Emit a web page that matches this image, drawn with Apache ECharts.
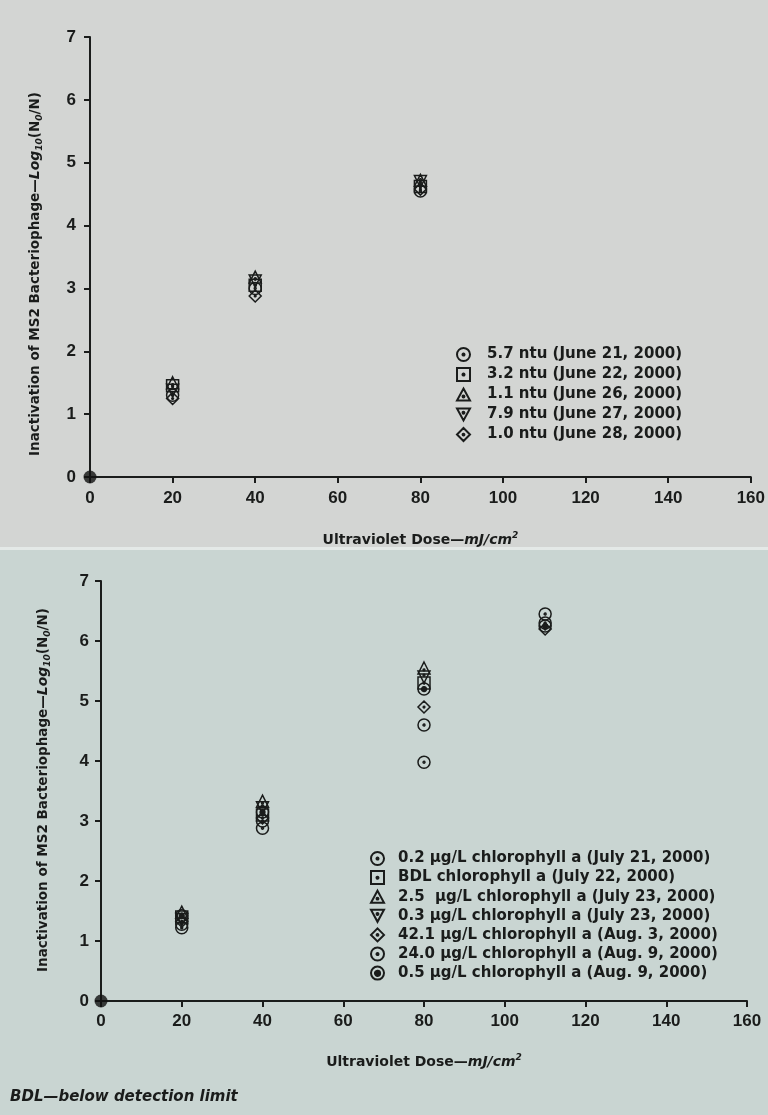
<!DOCTYPE html>
<html>
<head>
<meta charset="utf-8">
<script src="https://cdn.jsdelivr.net/npm/echarts@6/dist/echarts.min.js"></script>
<style>
html,body{margin:0;padding:0;background:#d2d4d2;}
#chart{width:768px;height:1115px;}
</style>
</head>
<body>
<div id="chart"></div>
<script>
// ---------- DATA ----------
const xTicks = [0, 20, 40, 60, 80, 100, 120, 140, 160];
const yTicks = [0, 1, 2, 3, 4, 5, 6, 7];

// Top chart: turbidity
const doseTop = [0, 20, 40, 80];
const topNames = [
  '5.7 ntu (June 21, 2000)',
  '3.2 ntu (June 22, 2000)',
  '1.1 ntu (June 26, 2000)',
  '7.9 ntu (June 27, 2000)',
  '1.0 ntu (June 28, 2000)'
];
const ntu57 = [0, 1.30, 3.00, 4.55];
const ntu32 = [0, 1.45, 3.05, 4.62];
const ntu11 = [0, 1.50, 3.18, 4.72];
const ntu79 = [0, 1.38, 3.12, 4.70];
const ntu10 = [0, 1.25, 2.88, 4.58];

// Bottom chart: chlorophyll a
const doseBot = [0, 20, 40, 80, 110];
const botNames = [
  '0.2 \u00b5g/L chlorophyll a (July 21, 2000)',
  'BDL chlorophyll a (July 22, 2000)',
  '2.5  \u00b5g/L chlorophyll a (July 23, 2000)',
  '0.3 \u00b5g/L chlorophyll a (July 23, 2000)',
  '42.1 \u00b5g/L chlorophyll a (Aug. 3, 2000)',
  '24.0 \u00b5g/L chlorophyll a (Aug. 9, 2000)',
  '0.5 \u00b5g/L chlorophyll a (Aug. 9, 2000)'
];
const chl02  = [0, 1.28, 2.88, 3.98, 6.45];
const chlBDL = [0, 1.40, 3.10, 5.30, null];
const chl25  = [0, 1.48, 3.33, 5.55, null];
const chl03  = [0, 1.36, 3.22, 5.40, null];
const chl421 = [0, 1.33, 3.05, 4.90, 6.20];
const chl240 = [0, 1.22, 3.00, 4.60, 6.30];
const chl05  = [0, 1.42, 3.15, 5.20, 6.25];

// ---------- STYLE ----------
const INK = '#1a1c1b';
const dot = (cx, cy) => ` M${cx + 1.4},${cy} A1.4,1.4 0 1,1 ${cx + 1.39},${cy - 0.1} Z`;
const SYM = {
  circ: 'path://M19,10 A9,9 0 1,1 18.99,9.6 Z' + dot(10, 10),
  sq: 'path://M1,1 L19,1 L19,19 L1,19 Z' + dot(10, 10),
  tri: 'path://M10,1 L19.5,18.5 L0.5,18.5 Z' + dot(10, 12.5),
  dtri: 'path://M0.5,1.5 L19.5,1.5 L10,19 Z' + dot(10, 7.5),
  dia: 'path://M10,0 L20,10 L10,20 L0,10 Z' + dot(10, 10),
  bull: 'path://M19,10 A9,9 0 1,1 18.99,9.6 Z M13.6,10 A3.6,3.6 0 1,1 13.59,9.9 Z M12.4,10 A2.4,2.4 0 1,1 12.39,9.9 Z M11.2,10 A1.2,1.2 0 1,1 11.19,9.9 Z'
};

function mk(name, xs, ys, sym, gi) {
  return {
    name: name, type: 'scatter', xAxisIndex: gi, yAxisIndex: gi,
    symbol: SYM[sym], symbolSize: 12,
    itemStyle: { color: 'rgba(0,0,0,0)', borderColor: INK, borderWidth: 1.5, opacity: 1 },
    emphasis: { disabled: true },
    data: xs.map((x, i) => [x, ys[i]]).filter(d => d[1] != null && d[0] !== 0),
    z: 3
  };
}
function origin(xs, ys, gi) {
  return {
    name: 'origin' + gi, type: 'scatter', xAxisIndex: gi, yAxisIndex: gi,
    symbol: 'circle', symbolSize: 13, itemStyle: { color: '#111' },
    data: [[xs[0], ys[0]]], z: 5, silent: true
  };
}

const tickFont = { fontFamily: 'Liberation Sans', fontWeight: 'bold', fontSize: 17, color: INK };
const titleFont = 'DejaVu Sans';
const richName = {
  i: { fontFamily: titleFont, fontWeight: 'bold', fontStyle: 'italic', fontSize: 14, lineHeight: 18, color: INK },
  sup: { fontFamily: titleFont, fontWeight: 'bold', fontStyle: 'italic', fontSize: 9, lineHeight: 9, verticalAlign: 'top', color: INK },
  sub: { fontFamily: titleFont, fontWeight: 'bold', fontStyle: 'italic', fontSize: 9, lineHeight: 9, verticalAlign: 'bottom', color: INK }
};

function xAx(gi, labelMargin, nameGap) {
  return {
    gridIndex: gi, type: 'value', min: 0, max: 160, interval: 20,
    axisLine: { onZero: false, lineStyle: { color: INK, width: 2 } },
    axisTick: { show: true, length: 6, lineStyle: { color: INK, width: 2 } },
    splitLine: { show: false },
    axisLabel: Object.assign({ margin: labelMargin, formatter: v => xTicks.includes(v) ? String(v) : '' }, tickFont),
    name: 'Ultraviolet Dose\u2014{i|mJ/cm}{sup|2}',
    nameLocation: 'middle', nameGap: nameGap,
    nameTextStyle: { fontFamily: titleFont, fontWeight: 'bold', fontSize: 14, lineHeight: 18, color: INK, rich: richName }
  };
}
function yAx(gi, labelMargin) {
  return {
    gridIndex: gi, type: 'value', min: 0, max: 7, interval: 1,
    axisLine: { show: true, onZero: false, lineStyle: { color: INK, width: 2 } },
    axisTick: { show: true, length: 6, lineStyle: { color: INK, width: 2 } },
    splitLine: { show: false },
    axisLabel: Object.assign({ margin: labelMargin, formatter: v => yTicks.includes(v) ? String(v) : '' }, tickFont)
  };
}

const legendText = { fontFamily: 'DejaVu Sans', fontWeight: 'bold', fontSize: 15, color: INK };

const yTitle = 'Inactivation of MS2 Bacteriophage\u2014{i|Log}{sub|10}(N{sub|0}/N)';

const option = {
  animation: false,
  graphic: [
    { type: 'rect', shape: { x: 0, y: 0, width: 768, height: 549 }, style: { fill: '#d3d5d3' }, z: -10 },
    { type: 'rect', shape: { x: 0, y: 549, width: 768, height: 566 }, style: { fill: '#c9d5d2' }, z: -10 },
    { type: 'rect', shape: { x: 0, y: 547, width: 768, height: 3 }, style: { fill: '#e4e9e7' }, z: -9 },
    {
      type: 'text', x: 35, y: 274, rotation: Math.PI / 2,
      style: {
        text: yTitle, fontFamily: titleFont, fontWeight: 'bold', fontSize: 13.5, lineHeight: 18, fill: INK,
        align: 'center', verticalAlign: 'middle', rich: richName
      }
    },
    {
      type: 'text', x: 43, y: 790, rotation: Math.PI / 2,
      style: {
        text: yTitle, fontFamily: titleFont, fontWeight: 'bold', fontSize: 13.5, lineHeight: 18, fill: INK,
        align: 'center', verticalAlign: 'middle', rich: richName
      }
    },
    {
      type: 'text', x: 10, y: 1097,
      style: {
        text: 'BDL\u2014below detection limit',
        fontFamily: titleFont, fontWeight: 'bold', fontStyle: 'italic', fontSize: 15, fill: INK,
        align: 'left', verticalAlign: 'middle'
      }
    }
  ],
  grid: [
    { left: 90, right: 16, top: 37, height: 440 },
    { left: 101, right: 21, top: 581, height: 420 }
  ],
  xAxis: [xAx(0, 13, 54), xAx(1, 12, 52)],
  yAxis: [yAx(0, 14), yAx(1, 12)],
  legend: [
    {
      data: topNames, orient: 'vertical', left: 451, top: 342,
      itemWidth: 13, itemHeight: 13, itemGap: 5,
      textStyle: Object.assign({ padding: [0, 0, 0, 12], lineHeight: 15 }, legendText),
      selectedMode: false
    },
    {
      data: botNames, orient: 'vertical', left: 365, top: 846,
      itemWidth: 13, itemHeight: 13, itemGap: 4.1,
      textStyle: Object.assign({ padding: [0, 0, 0, 9], lineHeight: 15 }, legendText),
      selectedMode: false
    }
  ],
  series: [
    mk(topNames[0], doseTop, ntu57, 'circ', 0),
    mk(topNames[1], doseTop, ntu32, 'sq', 0),
    mk(topNames[2], doseTop, ntu11, 'tri', 0),
    mk(topNames[3], doseTop, ntu79, 'dtri', 0),
    mk(topNames[4], doseTop, ntu10, 'dia', 0),
    origin(doseTop, ntu57, 0),
    mk(botNames[0], doseBot, chl02, 'circ', 1),
    mk(botNames[1], doseBot, chlBDL, 'sq', 1),
    mk(botNames[2], doseBot, chl25, 'tri', 1),
    mk(botNames[3], doseBot, chl03, 'dtri', 1),
    mk(botNames[4], doseBot, chl421, 'dia', 1),
    mk(botNames[5], doseBot, chl240, 'circ', 1),
    mk(botNames[6], doseBot, chl05, 'bull', 1),
    origin(doseBot, chl02, 1)
  ]
};

const chart = echarts.init(document.getElementById('chart'), null, { renderer: 'canvas' });
chart.setOption(option);
</script>
</body>
</html>
